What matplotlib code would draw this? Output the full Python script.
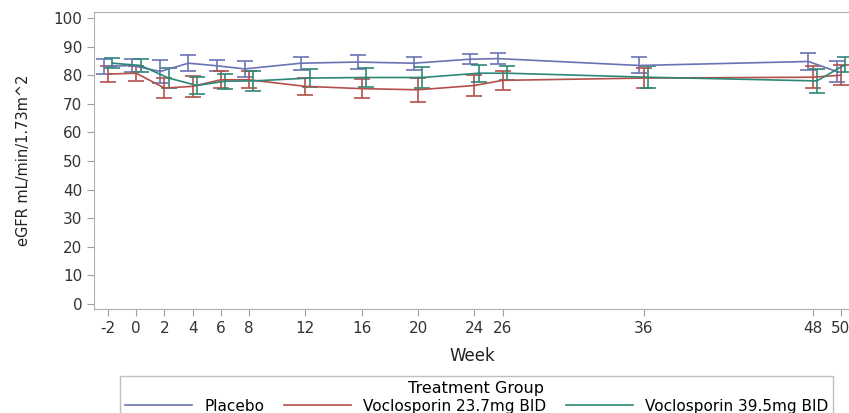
import matplotlib
matplotlib.use("Agg")
import matplotlib.pyplot as plt

# eGFR by week, mean and half-width of error bar
weeks = [-2, 0, 2, 4, 6, 8, 12, 16, 20, 24, 26, 36, 48, 50]
week_ticks = [-2, 0, 2, 4, 6, 8, 12, 16, 20, 24, 26, 36, 48, 50]

placebo_mean = [83.1, 83.4, 81.3, 84.2, 83.3, 82.2, 84.2, 84.6, 84.2, 85.6, 85.8, 83.4, 84.8, 81.3]
placebo_err = [2.55, 2.2, 4.0, 2.75, 1.9, 2.9, 2.25, 2.55, 2.25, 1.85, 2.0, 2.8, 2.85, 3.75]

low_mean = [80.4, 80.7, 75.5, 76.1, 78.4, 78.4, 76.1, 75.3, 74.9, 76.4, 78.2, 79.0, 79.3, 80.0]
low_err = [2.9, 2.6, 3.5, 3.55, 3.0, 2.9, 3.05, 3.3, 4.2, 3.7, 3.35, 3.5, 3.8, 3.6]

high_mean = [84.2, 83.4, 79.0, 76.4, 77.9, 78.0, 79.0, 79.2, 79.2, 80.7, 80.7, 79.3, 78.0, 83.7]
high_err = [1.85, 2.35, 3.5, 3.05, 2.6, 3.6, 3.2, 3.2, 3.6, 2.95, 2.55, 3.8, 4.15, 2.65]

groups = ["Placebo", "Voclosporin 23.7mg BID", "Voclosporin 39.5mg BID"]
colors = ["#6a73b3", "#b3504a", "#2d8777"]
offsets = [-0.3, 0.0, 0.3]

plt.rcParams['font.family'] = ['DejaVu Sans']
plt.rcParams['axes.unicode_minus'] = False

fig = plt.figure(figsize=(8.49, 4.13), dpi=100)
ax = fig.add_axes([94 / 849, 1 - 309 / 413, 1 - 94 / 849 + 0.002, (309 - 12) / 413])

series = [(placebo_mean, placebo_err), (low_mean, low_err), (high_mean, high_err)]
handles = []
for (m, e), name, c, off in zip(series, groups, colors, offsets):
    xs = [w + off for w in weeks]
    ax.errorbar(xs, m, yerr=e, color=c, lw=1.2, elinewidth=1.2,
                capsize=5.8, capthick=1.2)
    h, = ax.plot([], [], color=c, lw=1.2, label=name)
    handles.append(h)

ax.set_xlim(-3.0, 50.7)
ax.set_ylim(-1.75, 102.1)
ax.set_xticks(week_ticks)
ax.set_yticks(range(0, 101, 10))
ax.tick_params(direction='out', length=5, color='#a0a0a0', labelsize=11,
               labelcolor='#333333')
for s in ax.spines.values():
    s.set_color('#b0b0b0')

ax.set_xlabel('Week', fontsize=12, color='#222222', labelpad=8)
ax.set_ylabel('eGFR mL/min/1.73m^2', fontsize=10.5, color='#222222', labelpad=16)

leg = fig.legend(handles=handles, loc='upper left',
                 bbox_to_anchor=(120 / 849, 1 - 376 / 413, 713 / 849, 0),
                 mode='expand', ncol=3, title='Treatment Group',
                 fontsize=11, title_fontsize=11.5, handlelength=4.4,
                 frameon=True, fancybox=False, borderaxespad=0,
                 labelspacing=0.2, borderpad=0.3)
leg.get_frame().set_edgecolor('#b0b0b0')
leg.get_frame().set_linewidth(1.0)

fig.savefig('out.png', dpi=100)
